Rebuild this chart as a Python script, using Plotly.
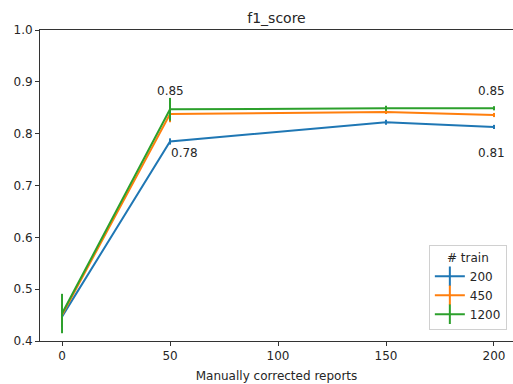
import plotly.graph_objects as go

# data
x_reports = [0, 50, 150, 200]
series_names = ["200", "450", "1200"]
f1_200 = [0.447, 0.785, 0.822, 0.813]
err_200 = [0.02, 0.006, 0.005, 0.004]
f1_450 = [0.450, 0.838, 0.842, 0.836]
err_450 = [0.02, 0.016, 0.004, 0.004]
f1_1200 = [0.453, 0.847, 0.849, 0.849]
err_1200 = [0.038, 0.022, 0.005, 0.004]
x_ticks = [0, 50, 100, 150, 200]
y_ticks = [0.4, 0.5, 0.6, 0.7, 0.8, 0.9, 1.0]
colors = ["#1f77b4", "#ff7f0e", "#2ca02c"]

annotations_data = [
    (50, 0.882, "0.85"),
    (56.5, 0.762, "0.78"),
    (199, 0.882, "0.85"),
    (199, 0.762, "0.81"),
]

FONT = "DejaVu Sans"
TXT = "#262626"

fig = go.Figure()
for name, ys, errs, c in zip(series_names, [f1_200, f1_450, f1_1200],
                             [err_200, err_450, err_1200], colors):
    fig.add_trace(go.Scatter(
        x=x_reports, y=ys, mode="lines", showlegend=False,
        line=dict(color=c, width=2),
        error_y=dict(type="data", array=errs, visible=True, color=c,
                     thickness=2, width=0),
    ))
# legend handles
for name, c in zip(series_names, colors):
    fig.add_trace(go.Scatter(
        x=[None], y=[None], mode="lines+markers", name=name,
        line=dict(color=c, width=2),
        marker=dict(symbol="line-ns", size=14, color=c,
                    line=dict(color=c, width=2)),
    ))

for ax_x, ax_y, t in annotations_data:
    fig.add_annotation(x=ax_x, y=ax_y, xref="x", yref="y", text=t,
                       showarrow=False, font=dict(family=FONT, size=12, color=TXT),
                       xanchor="center", yanchor="middle")

fig.update_layout(
    width=513, height=384,
    margin=dict(l=40, r=0, t=30, b=43, autoexpand=False),
    paper_bgcolor="white", plot_bgcolor="white",
    font=dict(family=FONT, size=12, color=TXT),
    title=dict(text="f1_score", x=0.5, xref="paper", xanchor="center",
               y=1 - 18 / 384, yref="container", yanchor="middle",
               font=dict(family=FONT, size=14, color=TXT)),
    legend=dict(title=dict(text="# train", side="top center",
                           font=dict(family=FONT, size=12, color=TXT)),
                x=0.987, xanchor="right", y=0.035, yanchor="bottom",
                bgcolor="rgba(255,255,255,0.8)", bordercolor="#d0d0d0",
                borderwidth=1, font=dict(family=FONT, size=12, color=TXT),
                itemwidth=30, tracegroupgap=0),
)
fig.update_xaxes(range=[-10.2, 208.8], tickvals=x_ticks,
                 ticktext=[str(v) for v in x_ticks], automargin=False,
                 showgrid=False, zeroline=False, showline=True,
                 linecolor="#333333", linewidth=1, mirror=True,
                 ticks="outside", ticklen=4, tickcolor="#333333",
                 title=dict(text="Manually corrected reports", standoff=9,
                            font=dict(family=FONT, size=12, color=TXT)))
fig.update_yaxes(range=[0.4, 1.0], tickvals=y_ticks,
                 ticktext=[f"{v:.1f}" for v in y_ticks], automargin=False,
                 showgrid=False, zeroline=False, showline=True,
                 linecolor="#333333", linewidth=1, mirror=False,
                 ticks="outside", ticklen=4, tickcolor="#333333")

fig.write_html("out.html", config={"displayModeBar": False},
               post_script="document.body.style.margin='0';document.body.style.overflow='hidden';")
